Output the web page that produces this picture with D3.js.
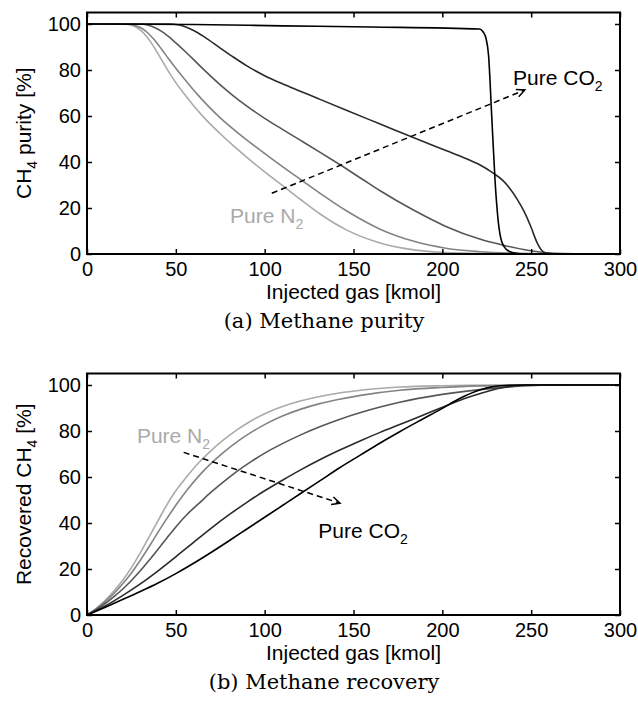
<!DOCTYPE html>
<html>
<head>
<meta charset="utf-8">
<script src="https://cdn.jsdelivr.net/npm/d3@7"></script>
<style>
body { margin: 0; background: #fff; }
text { font-family: "Liberation Sans", Arial, Helvetica, sans-serif; }
</style>
</head>
<body>
<script>
var width = 638, height = 701;

// ticks
var xTicks = [0, 50, 100, 150, 200, 250, 300];
var yTicks = [0, 20, 40, 60, 80, 100];

// line shades, pure N2 -> pure CO2
var shades = ['#aaaaaa', '#838383', '#565656', '#2a2a2a', '#000000'];

// (a) methane purity [%] vs injected gas [kmol]
var purity1 = [[0,100],[20,100],[24,99.7],[28,98.5],[32,96],[36,92],[40,87],[45,80.5],[50,74.5],[55,69.3],[60,64.5],[67.5,58],[75,52.3],[82.5,47],[90,42],[100,35.7],[110,29.8],[120,23.8],[131,17.5],[146,10.5],[165,4.8],[184,1.8],[202,0.6],[225,0.15],[245,0.02],[300,0]];
var purity2 = [[0,100],[22,100],[26,99.6],[30,98.5],[34,96.3],[38,93],[42,89],[46,84.8],[50,80.8],[56,75],[62,69.5],[68,64.5],[75,59.2],[82,54.5],[90,49.5],[100,43.7],[110,38],[120,32.5],[131,26.5],[146,18.8],[165,10.8],[184,5.5],[202,2.5],[221,1],[244,0.3],[265,0.05],[300,0]];
var purity3 = [[0,100],[30,100],[34,99.6],[38,98.5],[42,96.8],[46,94.5],[50,91.8],[56,87.5],[62,83],[68,78.5],[75,73.5],[82,69],[90,64.3],[100,59],[110,54.2],[120,49.5],[131,44.3],[142,39],[155,32.5],[165,27.5],[184,19],[202,12],[221,6.5],[235,3.7],[248,1.6],[260,0.4],[275,0.05],[300,0]];
var purity4 = [[0,100],[46,100],[52,99.6],[56,98.6],[60,97.2],[66,94.4],[75,89.5],[82,85.8],[90,81.8],[100,77.5],[110,74],[120,70.8],[130,67.6],[146,62.5],[165,56.5],[184,50.5],[202,45],[214,41.3],[221,38.8],[228,35.5],[234,32],[238,28.5],[242,24],[246,18.5],[250,11.5],[253,5.5],[255.5,2],[258,0.5],[262,0.1],[270,0],[300,0]];
var purity5 = [[0,100],[60,99.8],[110,99.2],[160,98.7],[221,97.8],[223,96.5],[224.5,94],[226,86.5],[227.8,60],[229.7,31.5],[231.5,14],[233.4,5.4],[236,2],[240,0.5],[245,0],[300,0]];

// (b) recovered methane [%] vs injected gas [kmol]
var recovery1 = [[0,0],[5,2.8],[10,6.2],[15,10.3],[20,15],[25,20.6],[30,27],[35,34],[40,41],[45,48],[50,54],[56,60],[63,66.3],[70,71.6],[77,76.2],[85,80.8],[93,84.7],[101,87.8],[110,90.6],[120,93],[131,95],[142,96.5],[154,97.7],[176,99.1],[199,99.7],[230,100],[300,100]];
var recovery2 = [[0,0],[5,2.6],[10,5.7],[15,9.3],[20,13.5],[25,18.3],[30,23.8],[35,29.8],[40,36],[45,42],[50,47.7],[56,54],[63,60.5],[70,66],[77,70.8],[85,75.6],[93,79.7],[101,83.2],[110,86.5],[120,89.4],[131,91.9],[142,93.8],[154,95.5],[176,97.7],[199,98.9],[222,99.6],[245,99.9],[260,100],[300,100]];
var recovery3 = [[0,0],[5,2.3],[10,4.9],[15,7.9],[20,11.2],[25,15],[30,19.2],[35,23.8],[40,28.6],[45,33.5],[50,38.3],[56,43.5],[63,48.5],[70,53.5],[77,58],[85,62.8],[93,67],[101,70.8],[110,74.5],[120,78.2],[131,81.8],[142,85],[154,88],[165,90.4],[176,92.5],[199,95.8],[221,98],[240,99.3],[255,99.9],[270,100],[300,100]];
var recovery4 = [[0,0],[10,3.8],[20,8.4],[30,13.5],[40,19.2],[50,25.3],[60,31.6],[70,37.8],[80,43.6],[90,49],[100,54],[110,58.6],[120,63],[131,67.5],[142,71.6],[154,75.8],[165,79.4],[176,82.8],[188,86.5],[199,90],[206,92.2],[210,93.4],[221,96.2],[232,98.6],[240,99.6],[250,100],[300,100]];
var recovery5 = [[0,0],[10,3.3],[20,6.7],[30,10.2],[40,13.9],[50,18],[60,22.5],[70,27.3],[80,32.3],[90,37.4],[100,42.5],[110,47.6],[120,52.7],[131,58.3],[142,63.9],[154,69.6],[165,74.8],[176,79.7],[188,84.8],[199,89.4],[210,94.2],[221,97.8],[228,99.2],[235,99.8],[245,100],[300,100]];

var svg = d3.select('body').append('svg')
    .attr('width', width)
    .attr('height', height);

var x = d3.scaleLinear().domain([0, 300]).range([87, 620]);

function drawPanel(y, series, yTitle, caption, arrow, n2Pos, co2Pos) {
    var y0 = y.range()[0], y1 = y.range()[1];
    var g = svg.append('g');

    var line = d3.line()
        .x(function(d) { return x(d[0]); })
        .y(function(d) { return y(d[1]); })
        .curve(d3.curveMonotoneX);

    g.selectAll('.curve')
        .data(series)
        .enter().append('path')
        .attr('class', 'curve')
        .attr('d', line)
        .attr('fill', 'none')
        .attr('stroke', function(d, i) { return shades[i]; })
        .attr('stroke-width', 1.6);

    // axes, ticks inward on all sides
    var axes = [
        g.append('g').attr('transform', 'translate(0,' + y0 + ')')
            .call(d3.axisBottom(x).tickValues(xTicks).tickSize(-5).tickPadding(8)),
        g.append('g').attr('transform', 'translate(0,' + y1 + ')')
            .call(d3.axisTop(x).tickValues(xTicks).tickSize(-5).tickFormat('')),
        g.append('g').attr('transform', 'translate(87,0)')
            .call(d3.axisLeft(y).tickValues(yTicks).tickSize(-5).tickPadding(6)),
        g.append('g').attr('transform', 'translate(620,0)')
            .call(d3.axisRight(y).tickValues(yTicks).tickSize(-5).tickFormat(''))
    ];
    axes.forEach(function(a) {
        a.select('.domain').remove();
        a.attr('font-family', null).attr('font-size', null);
        a.selectAll('line').attr('stroke', '#000').attr('stroke-width', 1.5);
        a.selectAll('text').attr('fill', '#000').style('font-size', '20px');
    });

    g.append('rect')
        .attr('x', 87).attr('y', y1)
        .attr('width', 533).attr('height', y0 - y1)
        .attr('fill', 'none')
        .attr('stroke', '#000')
        .attr('stroke-width', 2);

    // dashed arrow
    var ax0 = x(arrow[0][0]), ay0 = y(arrow[0][1]);
    var ax1 = x(arrow[1][0]), ay1 = y(arrow[1][1]);
    g.append('line')
        .attr('x1', ax0).attr('y1', ay0)
        .attr('x2', ax1).attr('y2', ay1)
        .attr('stroke', '#000')
        .attr('stroke-width', 1.5)
        .attr('stroke-dasharray', '6,4');
    var ang = Math.atan2(ay1 - ay0, ax1 - ax0), hl = 9, hs = 0.45;
    g.append('path')
        .attr('d', 'M' + (ax1 - hl * Math.cos(ang - hs)) + ',' + (ay1 - hl * Math.sin(ang - hs)) +
                   'L' + ax1 + ',' + ay1 +
                   'L' + (ax1 - hl * Math.cos(ang + hs)) + ',' + (ay1 - hl * Math.sin(ang + hs)))
        .attr('fill', 'none')
        .attr('stroke', '#000')
        .attr('stroke-width', 1.5);

    // series labels
    var t1 = g.append('text')
        .attr('x', x(n2Pos[0])).attr('y', y(n2Pos[1]))
        .attr('fill', '#aaaaaa')
        .style('font-size', '21px');
    t1.append('tspan').text('Pure N');
    t1.append('tspan').attr('dy', 6).style('font-size', '14px').text('2');

    var t2 = g.append('text')
        .attr('x', x(co2Pos[0])).attr('y', y(co2Pos[1]))
        .attr('fill', '#000')
        .style('font-size', '21px');
    t2.append('tspan').text('Pure CO');
    t2.append('tspan').attr('dy', 6).style('font-size', '14px').text('2');

    // axis titles
    g.append('text')
        .attr('x', 353.5).attr('y', y0 + 45)
        .attr('text-anchor', 'middle')
        .style('font-size', '21px')
        .text('Injected gas [kmol]');

    var yt = g.append('text')
        .attr('transform', 'translate(31,' + ((y0 + y1) / 2) + ') rotate(-90)')
        .attr('text-anchor', 'middle')
        .style('font-size', '21px');
    yt.append('tspan').text(yTitle[0]);
    yt.append('tspan').attr('dy', 6).style('font-size', '14px').text(yTitle[1]);
    yt.append('tspan').attr('dy', -6).text(yTitle[2]);

    svg.append('text')
        .attr('x', 324).attr('y', y0 + 74)
        .attr('text-anchor', 'middle')
        .style('font-family', '"DejaVu Serif", serif')
        .style('font-size', '21px')
        .text(caption);
}

var yA = d3.scaleLinear().domain([0, 105]).range([254, 12.5]);
var yB = d3.scaleLinear().domain([0, 105]).range([615, 373.5]);

drawPanel(yA, [purity1, purity2, purity3, purity4, purity5],
    ['CH', '4', ' purity [%]'], '(a)  Methane purity',
    [[104, 26.4], [246.4, 71.3]], [80.5, 13.6], [239.8, 73.5]);

drawPanel(yB, [recovery1, recovery2, recovery3, recovery4, recovery5],
    ['Recovered CH', '4', ' [%]'], '(b)  Methane recovery',
    [[54.4, 70.7], [142.4, 48.6]], [28.1, 74.7], [130.2, 33.3]);
</script>
</body>
</html>
